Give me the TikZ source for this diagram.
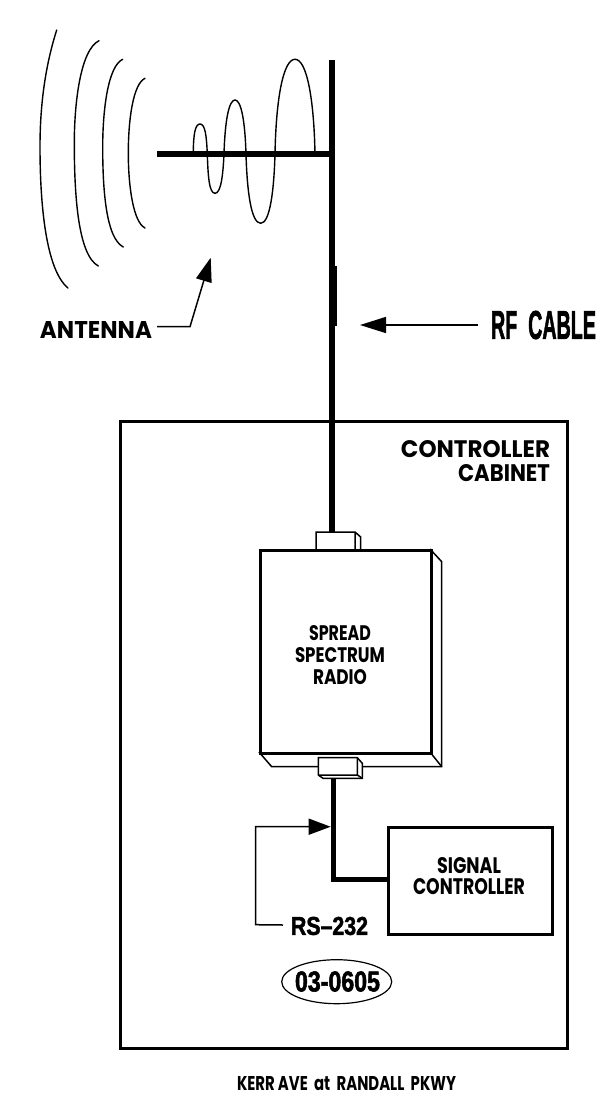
\documentclass[tikz,border=0pt]{standalone}
\usepackage{fontspec}
\setmainfont{Poppins}
\newfontfamily\narrowfont{Liberation Sans}[BoldFeatures={FakeBold=2}]
\usetikzlibrary{arrows.meta,shapes.geometric}
\newcommand{\fitw}[3]{\resizebox{#1pt}{#2pt}{#3}}
\tikzset{
  x=1pt,y=-1pt,
  wave/.style={line width=1.4pt,line cap=round},
  heavy/.style={line width=6pt},
  boxline/.style={line width=2.8pt},
  thinline/.style={line width=1.5pt},
  lbl/.style={inner sep=0pt,outer sep=0pt,font=\bfseries,anchor=center},
  tip/.style={-{Triangle[length=#1,width=16pt]}},
}
\begin{document}
\begin{tikzpicture}
\useasboundingbox[fill=white] (0,0) rectangle (596,1106);
% radiation arcs
\draw[wave] (56.7,30) .. controls (44,70) and (40,110) .. (40,147) .. controls (40,205) and (46,270) .. (68,288);
\draw[wave] (99,40.7) .. controls (80,50) and (74.3,105) .. (74.3,143) .. controls (74.3,195) and (78,255) .. (98.3,266);
\draw[wave] (122.7,59.3) .. controls (108,66) and (102.7,110) .. (102.7,147) .. controls (102.7,190) and (106,238) .. (123.3,247);
\draw[wave] (145,78.3) .. controls (133,84) and (128.3,120) .. (128.3,153) .. controls (128.3,185) and (133,222) .. (145,228);
% antenna element
\draw[wave] (193.3,154) .. controls (193.3,135) and (195,124) .. (200,124)
  .. controls (205,124) and (206.5,135) .. (207.3,154)
  .. controls (208,175) and (209,193.3) .. (215,193.3)
  .. controls (221,193.3) and (223,175) .. (224,154)
  .. controls (225,120) and (229,100) .. (235,100)
  .. controls (241,100) and (245,120) .. (246,154)
  .. controls (247,190) and (251,223.3) .. (260.7,223.3)
  .. controls (270,223.3) and (274,190) .. (275,154)
  .. controls (276,100) and (283,59.3) .. (295,59.3)
  .. controls (307,59.3) and (314,100) .. (315,154);
\coordinate (boomend) at (157,154);
\coordinate (mastjoin) at (332,154);
\coordinate (masttop) at (332,60);
\coordinate (slvtop) at (332.5,266);
\coordinate (slvbot) at (332.5,326);
\draw[line width=6pt] (boomend) -- (mastjoin);
% radio
\coordinate (topconn) at (332,533);
\draw[heavy] (masttop) -- (topconn);
\draw[line width=8pt] (slvtop) -- (slvbot);
% cabinet
\node[draw,boxline,minimum width=447pt,minimum height=627pt,inner sep=0pt,anchor=north west] (cabinet) at (119,420) {};
% top connector
\draw[thinline] (316,549) -- (316,532) -- (355,532) -- (360.7,537) -- (360.7,549) (355,532) -- (355,549);
% radio box
\draw[thinline] (430,549) -- (441.7,561.7) -- (441.7,766.7) -- (271.7,766.7) -- (259,752);
\draw[thinline] (441.7,766.7) -- (430,752);
\node[draw,line width=3.2pt,minimum width=171pt,minimum height=203pt,inner sep=0pt,anchor=north west] (radio) at (259,549) {};
\node[lbl] (t1) at (340,633) {\fitw{62}{15}{SPREAD}};
\node[lbl] (t2) at (340,655) {\fitw{90}{15}{SPECTRUM}};
\node[lbl] (t3) at (340,677) {\fitw{54}{15}{RADIO}};
% bottom connector
\draw[thinline,fill=white] (318.3,757.7) -- (357.3,757.7) -- (362.3,763.3) -- (362.3,778.3) -- (323,778.3) -- (318.3,775) -- cycle;
\draw[thinline] (318.3,775) -- (357.3,775) -- (357.3,757.7) (357.3,775) -- (362.3,778.3);
% signal controller
\node[draw,boxline,minimum width=164pt,minimum height=107pt,inner sep=0pt,anchor=north west] (ctrl) at (387,826) {};
\node[lbl] (t4) at (469,866) {\fitw{64}{16}{SIGNAL}};
\node[lbl] (t5) at (469,887) {\fitw{112}{16}{CONTROLLER}};
\coordinate (wiretop) at (333.5,778);
\coordinate (wirecorner) at (333.5,879.5);
\draw[line width=5.5pt,line join=miter] (wiretop) -- (wirecorner) -- (ctrl.west |- wirecorner);
% RS-232
\node[lbl] (rs) at (329.5,926) {\fitw{77}{18}{\narrowfont\bfseries RS–232}};
\coordinate (rsa) at (255.7,924.7);
\coordinate (rsb) at (255.7,826.7);
\coordinate (rsc) at (330.7,826.7);
\draw[thinline,tip=22pt] (rs.west) ++(-8,-1) -- (rsa) -- (rsb) -- (rsc);
% tag
\node[draw,ellipse,line width=1.2pt,minimum width=110pt,minimum height=44pt,inner sep=0pt] (tag) at (336.7,981.7) {};
\node[lbl] (tagt) at (337.5,981.5) {\fitw{85}{20}{\narrowfont\bfseries 03-0605}};
% antenna label
\node[lbl] (ant) at (96,330) {\fitw{112}{17}{ANTENNA}};
\coordinate (antbend) at (190,326.7);
\coordinate (anttip) at (210.7,257.7);
\draw[thinline,tip=24pt] (ant.east) ++(5,-3.3) -- (antbend) -- (anttip);
% RF cable
\node[lbl] (rf) at (543.5,325) {\fitw{105}{28}{\narrowfont\bfseries RF\ \ CABLE}};
\coordinate (rftip) at (360,325);
\draw[thinline,tip=26pt] (rf.west) ++(-13,0) -- (rftip);
% cabinet title
\node[lbl] (c1) at (475.5,449) {\fitw{149}{17}{CONTROLLER}};
\node[lbl] (c2) at (504,473) {\fitw{92}{17}{CABINET}};
% caption
\node[lbl] (cap) at (346.5,1084) {\fitw{219}{14}{KERR AVE\ \ at\ \ RANDALL\ \ PKWY}};
\end{tikzpicture}
\end{document}
